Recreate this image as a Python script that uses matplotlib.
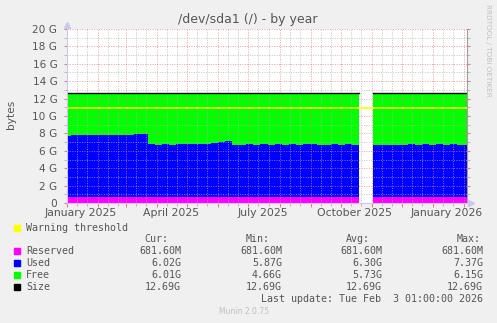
"""
Disk usage for /dev/sda1 over a year, drawn in the Munin/RRDtool look.
"""

import numpy as np
import pandas as pd
import matplotlib
matplotlib.use("Agg")
import matplotlib.pyplot as plt
import matplotlib.dates as mdates
from matplotlib.patches import Rectangle

W, H = 497, 323

# ── data (GB) ────────────────────────────────────────────────
WEEK_START = "2024-12-29"
RESERVED = 0.6816
SIZE = 12.69
WARNING = 10.88

# used space per week; NaN = no data collected
used = [
    7.07, 7.10, 7.08, 7.09, 7.12, 7.10, 7.11, 7.13, 7.12, 7.18, 7.20, 7.30,
    6.05, 6.02, 6.06, 6.03, 6.07, 6.05, 6.08, 6.10, 6.12, 6.18,
    6.35, 6.42,
    6.04, 6.02, 6.05, 6.03, 6.06, 6.04, 6.05, 6.02, 6.06, 6.03,
    6.05, 6.07, 6.04, 5.95, 6.06, 6.03, 6.05, 6.02,
    np.nan, np.nan,
    6.00, 6.03, 6.01, 6.04, 6.02, 6.05, 6.03, 6.06, 6.04, 6.05,
    6.03, 6.06, 6.04, 6.02,
]

series_names = ["Reserved", "Used", "Free", "Size"]
series_colors = ["#FF00FF", "#0000FF", "#00FF00", "#000000"]
cur_vals = ["681.60M", "6.02G", "6.01G", "12.69G"]
min_vals = ["681.60M", "5.87G", "4.66G", "12.69G"]
avg_vals = ["681.60M", "6.30G", "5.73G", "12.69G"]
max_vals = ["681.60M", "7.37G", "6.15G", "12.69G"]

month_labels = ["January 2025", "April 2025", "July 2025", "October 2025", "January 2026"]
month_label_dates = ["2025-01-15", "2025-04-15", "2025-07-15", "2025-10-15", "2026-01-15"]
ytick_vals = [0, 2, 4, 6, 8, 10, 12, 14, 16, 18, 20]
ytick_text = ["0"] + [f"{v} G" for v in ytick_vals[1:]]

# ── derived series ──────────────────────────────────────────
used = np.array(used)
edges = pd.date_range(WEEK_START, periods=len(used) + 1, freq="7D")
valid = ~np.isnan(used)

TEXT = "#555555"


def fx(x):
    return x / W


def fy(y):
    return 1 - y / H


def runs(mask):
    """Yield (start, stop) index pairs of consecutive True values."""
    i = 0
    n = len(mask)
    while i < n:
        if mask[i]:
            j = i
            while j < n and mask[j]:
                j += 1
            yield i, j
            i = j
        else:
            i += 1


fig = plt.figure(figsize=(W / 100, H / 100), dpi=100, facecolor="#F0F0F0")
ax = fig.add_axes([fx(67), fy(203), fx(467) - fx(67), fy(29) - fy(203)])
ax.set_facecolor("white")

for a, b in runs(valid):
    xe = edges[a:b + 1]
    u = used[a:b]
    res = np.full(b - a, RESERVED)
    top = res + u
    sz = np.full(b - a, SIZE)
    ext = lambda v: np.append(v, v[-1])
    ax.fill_between(xe, 0, ext(res), step="post", color=series_colors[0], lw=0, zorder=1)
    ax.fill_between(xe, ext(res), ext(top), step="post", color=series_colors[1], lw=0, zorder=1)
    ax.fill_between(xe, ext(top), ext(sz), step="post", color=series_colors[2], lw=0, zorder=1)
    ax.step(xe, ext(sz), where="post", color="black", lw=1.0, zorder=4)

ax.axhline(WARNING, color="#FFFF00", lw=1.2, zorder=4)

ax.set_xlim(pd.Timestamp("2025-01-01"), pd.Timestamp("2026-02-04"))
ax.set_ylim(0, 20)

# grid: months red, 11th/21st grey; whole G grey, even G red
ax.xaxis.set_major_locator(mdates.MonthLocator())
ax.xaxis.set_minor_locator(mdates.DayLocator(bymonthday=[11, 21]))
ax.xaxis.set_major_formatter(plt.NullFormatter())
ax.set_yticks(ytick_vals)
ax.set_yticklabels(ytick_text)
ax.set_yticks(np.arange(1, 20, 2), minor=True)

ax.set_axisbelow(False)
dots = (0, (1, 1.5))
ax.grid(which="major", color="#E08080", alpha=0.75, lw=0.7, linestyle=dots)
ax.grid(which="minor", color="#B0B0B0", alpha=0.75, lw=0.7, linestyle=dots)

ax.tick_params(which="major", axis="x", length=3, color="#E08080", direction="out")
ax.tick_params(which="minor", axis="x", length=2, color="#B0B0B0", direction="out")
ax.tick_params(which="both", axis="y", length=2, color="#E08080", direction="out",
               labelsize=7.6, labelcolor=TEXT, pad=5, right=True)
ax.tick_params(which="minor", axis="y", color="#B0B0B0")

ax.spines["top"].set_visible(False)
ax.spines["left"].set_color("#C8C8F0")
ax.spines["bottom"].set_color("#C8C8F0")
ax.spines["right"].set_color("#A0A0A0")
for sp in ax.spines.values():
    sp.set_linewidth(0.8)
    sp.set_zorder(5)

# axis arrows
fig.add_artist(plt.Line2D([fx(67)], [fy(25)], marker="^", ms=4, color="#C8C8F0",
                          transform=fig.transFigure))
fig.add_artist(plt.Line2D([fx(471)], [fy(203)], marker=">", ms=4, color="#C8C8F0",
                          transform=fig.transFigure))

for lab, d in zip(month_labels, month_label_dates):
    ax.text(pd.Timestamp(d), -0.55, lab, ha="center", va="top", fontsize=7.8,
            color=TEXT)

fig.text(fx(248), fy(20), "/dev/sda1 (/) - by year", ha="center", va="center",
         fontsize=9, color=TEXT)
fig.text(fx(11), fy(114), "bytes", ha="center", va="center", rotation=90,
         fontsize=7.6, color=TEXT)
fig.text(fx(488), fy(4), "RRDTOOL / TOBI OETIKER", ha="center", va="top", rotation=270,
         fontsize=5.2, color="#C0C0C0")

# ── legend block ────────────────────────────────────────────
mono = dict(family="DejaVu Sans Mono", fontsize=7.2, color=TEXT, va="center")


def swatch(y, color):
    fig.add_artist(Rectangle((fx(14), fy(y + 3)), fx(6), 6 / H, color=color,
                             transform=fig.transFigure))


swatch(228, "#FFFF00")
fig.text(fx(26), fy(228), "Warning threshold", ha="left", **mono)

fig.text(fx(168), fy(239), "Cur:", ha="right", **mono)
fig.text(fx(270), fy(239), "Min:", ha="right", **mono)
fig.text(fx(370), fy(239), "Avg:", ha="right", **mono)
fig.text(fx(481), fy(239), "Max:", ha="right", **mono)

for i, name in enumerate(series_names):
    y = 251 + 12 * i
    swatch(y, series_colors[i])
    fig.text(fx(26), fy(y), name, ha="left", **mono)
    fig.text(fx(181), fy(y), cur_vals[i], ha="right", **mono)
    fig.text(fx(282), fy(y), min_vals[i], ha="right", **mono)
    fig.text(fx(382), fy(y), avg_vals[i], ha="right", **mono)
    fig.text(fx(483), fy(y), max_vals[i], ha="right", **mono)

fig.text(fx(483), fy(299), "Last update: Tue Feb  3 01:00:00 2026", ha="right", **mono)
fig.text(fx(244), fy(312), "Munin 2.0.75", ha="center", va="center",
         fontsize=5.5, color="#C0C0C0")

fig.savefig("out.png", dpi=100, facecolor=fig.get_facecolor())
